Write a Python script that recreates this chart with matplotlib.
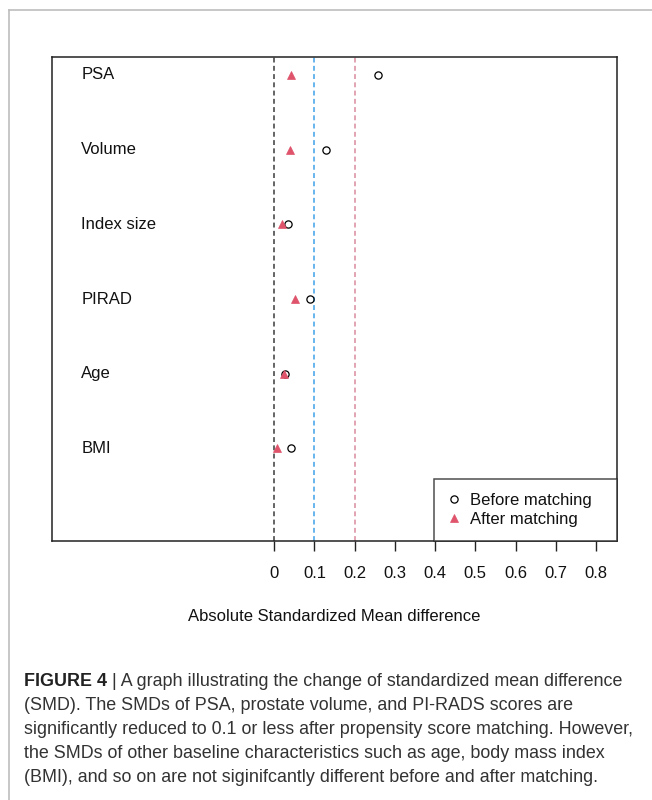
import matplotlib
matplotlib.use("Agg")
import matplotlib.pyplot as plt
from matplotlib.lines import Line2D

plt.rcParams['font.family'] = ['Liberation Sans', 'DejaVu Sans']

# Covariates, top to bottom
covariates = ["PSA", "Volume", "Index size", "PIRAD", "Age", "BMI"]
# Absolute standardized mean differences
smd_before = [0.258, 0.130, 0.034, 0.089, 0.027, 0.041]
smd_after = [0.043, 0.039, 0.020, 0.052, 0.025, 0.006]
# Reference thresholds
ref_lines = [0.0, 0.1, 0.2]
ref_colors = ["#3a3a3a", "#3da0e8", "#d98a9c"]
xticks = [0, 0.1, 0.2, 0.3, 0.4, 0.5, 0.6, 0.7, 0.8]
xtick_labels = ["0", "0.1", "0.2", "0.3", "0.4", "0.5", "0.6", "0.7", "0.8"]

caption_lines = [
    "A graph illustrating the change of standardized mean difference",
    "(SMD). The SMDs of PSA, prostate volume, and PI-RADS scores are",
    "significantly reduced to 0.1 or less after propensity score matching. However,",
    "the SMDs of other baseline characteristics such as age, body mass index",
    "(BMI), and so on are not siginifcantly different before and after matching.",
]

W, H = 652, 800
fig = plt.figure(figsize=(W / 100, H / 100), dpi=100)
fig.patch.set_facecolor("white")

ax = fig.add_axes([52 / W, 1 - 541 / H, (617 - 52) / W, (541 - 57) / H])
n = len(covariates)
ypos = list(range(n, 0, -1))

for xv, c in zip(ref_lines, ref_colors):
    ax.axvline(xv, color=c, lw=1.1, dashes=(3.2, 2.2))

ax.plot(smd_before, ypos, linestyle="none", marker="o", markersize=5.2,
        markerfacecolor="none", markeredgecolor="black", markeredgewidth=0.9,
        label="Before matching")
ax.plot(smd_after, ypos, linestyle="none", marker="^", markersize=6.2,
        markerfacecolor="#DF536B", markeredgecolor="#DF536B", markeredgewidth=0.5,
        label="After matching")

fs = 12
for lab, y in zip(covariates, ypos):
    ax.text(-0.479, y, lab, ha="left", va="center", fontsize=fs, color="#111111")

ax.set_xlim(-0.552, 0.852)
ax.set_ylim(-0.24, n + 0.24)
ax.set_yticks([])
ax.set_xticks(xticks)
ax.set_xticklabels(xtick_labels, fontsize=fs, color="#111111")
ax.tick_params(axis="x", length=7.2, width=1.0, pad=11, color="#222222")
for sp in ax.spines.values():
    sp.set_linewidth(1.1)
    sp.set_color("#222222")
ax.set_xlabel("Absolute Standardized Mean difference", fontsize=fs,
              color="#111111", labelpad=20)

leg = ax.legend(loc="lower left", bbox_to_anchor=(0.6755, 0.0, 1 - 0.6755, 0.128),
                mode="expand", borderaxespad=0, fancybox=False, frameon=True,
                fontsize=fs, handlelength=0.8, handletextpad=0.55,
                borderpad=0.85, labelspacing=0.25)
leg.get_frame().set_edgecolor("#222222")
leg.get_frame().set_linewidth(1.1)
for t in leg.get_texts():
    t.set_color("#111111")

# Panel border
fig.add_artist(Line2D([9 / W, 1.0], [1 - 10 / H, 1 - 10 / H], color="#bdbdbd", lw=1.2))
fig.add_artist(Line2D([9 / W, 9 / W], [0.0, 1 - 10 / H], color="#bdbdbd", lw=1.2))

# Caption
cap_color = "#333333"
cap_size = 12.9
fig.canvas.draw()
renderer = fig.canvas.get_renderer()
bold = fig.text(24 / W, 1 - 686 / H, "FIGURE 4", fontsize=cap_size, fontweight="bold",
                color="#222222", va="baseline", ha="left")
bb = bold.get_window_extent(renderer=renderer)
fig.text(bb.x1 / W, 1 - 686 / H, " | " + caption_lines[0], fontsize=cap_size,
         color=cap_color, va="baseline", ha="left")
for i, line in enumerate(caption_lines[1:], start=1):
    fig.text(24 / W, 1 - (686 + 24 * i) / H, line, fontsize=cap_size,
             color=cap_color, va="baseline", ha="left")

fig.savefig("out.png", dpi=100, facecolor="white")
